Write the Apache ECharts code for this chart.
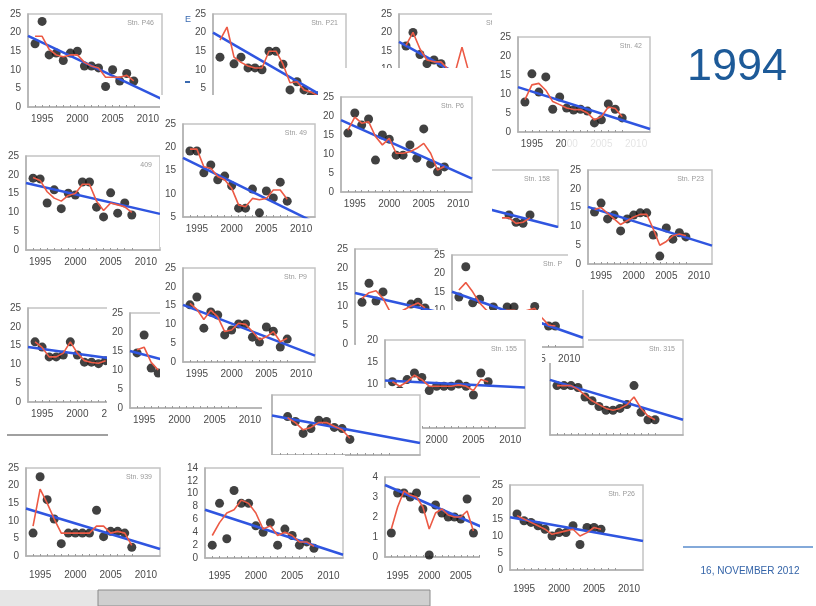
<!DOCTYPE html>
<html><head><meta charset="utf-8">
<script src="https://cdn.jsdelivr.net/npm/echarts@6/dist/echarts.min.js"></script>
<style>html,body{margin:0;padding:0;background:#fff}#c{width:816px;height:606px}</style>
</head><body><div id="c"></div>
<script>
const years = [1994,1995,1996,1997,1998,1999,2000,2001,2002,2003,2004,2005,2006,2007,2008];
const trendYears = [1993, 2012];
const xTickLabels = [1995, 2000, 2005, 2010];

const p46Dots = [17, 23, 14, 14.5, 12.5, 14.5, 15, 11, 11, 10.5, 5.5, 10, 7, 9, 7];
const p46Avg  = [19, 19, 15.5, 14, 13.5, 14, 14, 12, 11, 10.5, 8, 8, 8, 8.5, 7];
const p46Trend = [19.1, 2.1];

const p21Dots = [13.4, 38, 11.6, 13.4, 10.5, 10.5, 10, 15, 15, 11.5, 4.6, 6.8, 4.6, 3, 3];
const p21Avg  = [18, 21.5, 13.4, 12, 11, 10.5, 10.5, 15, 15, 11.5, 6.5, 6.8, 4.6, 4, 3];
const p21Trend = [20, -0.7];

const s56Dots = [16.3, 20, 14, 11.5, 12.5, 11.5, 9, 9, 9, 8, 7, 7, 5, 6, 6];
const s56Avg  = [16.5, 20, 15.5, 12.5, 12, 12, 10, 9, 16, 9, 8, 7, 6, 6, 6];
const s56Trend = [17.4, -2.4];

const s42Dots = [7.9, 15.3, 10.5, 14.5, 6, 9.2, 6.3, 5.8, 6, 5.5, 2.4, 3.2, 7.4, 6, 3.7];
const s42Avg  = [8.5, 12.4, 12.8, 11, 8, 7.2, 6.3, 5.9, 5.9, 5, 3.2, 4, 6.6, 6.2, 4];
const s42Trend = [11.8, 0.8];

const s409Dots = [19.1, 18.9, 12.5, 16, 11, 15.1, 14.6, 18.1, 18.1, 11.4, 8.8, 15.2, 9.8, 12.5, 9.3];
const s409Avg  = [19.3, 18.5, 15.5, 13.8, 13, 14.5, 15, 17.5, 17.5, 13, 10.5, 12.5, 12, 11.5, 10];
const s409Trend = [17.8, 9.6];

const s49Dots = [19.2, 19.2, 14.5, 16.2, 13, 13.8, 11.7, 6.9, 6.9, 11, 5.9, 10.6, 9.1, 12.5, 8.4];
const s49Avg  = [19.6, 19.6, 15.8, 15.5, 13.7, 13, 11.2, 7.6, 7.2, 9, 8.7, 9, 10.8, 10.8, 8.8];
const s49Trend = [17.7, 3.8];

const p6Dots = [15.5, 20.8, 17.6, 19.2, 8.4, 15, 13.9, 9.7, 9.7, 12.4, 8.9, 16.6, 7.4, 5.3, 6.6];
const p6Avg  = [16.3, 19.7, 18.1, 18.5, 14.6, 12.4, 14.1, 10.2, 10.2, 10.6, 11.5, 12.8, 10.2, 5.8, 6.7];
const p6Trend = [18.9, 3.5];

const s158Dots = [null, null, null, null, null, null, null, null, null, null, null, 12.8, 10.8, 10.5, 12.8];
const s158Avg  = [null, null, null, null, null, null, null, null, null, null, 12, 12, 10.5, 10.8, 12];
const s158Trend = [18.8, 9.5];

const p23Dots = [13.8, 16.2, 12, 13, 8.8, 12, 13, 13.6, 13.6, 7.7, 2.1, 9.6, 6.6, 8.3, 7.2];
const p23Avg  = [14.5, 15, 13.5, 12, 10.5, 11.5, 12.5, 13.2, 13.2, 9.3, 5, 6, 7.5, 8, 7.5];
const p23Trend = [15.2, 4.9];

const r3aDots = [16, 14.6, 12, 12, 12.5, 16, 12.5, 10.6, 10.6, 10.2, 11, null, null, null, null];
const r3aAvg  = [16, 14.5, 12, 12, 13, 16, 13, 11, 10.5, 10.3, 11, null, null, null, null];
const r3aTrend = [14.6, 9.7];

const r3bDots = [14.5, 19.2, 10.5, 9.2, null, null, null, null, null, null, null, null, null, null, null];
const r3bAvg  = [15.3, 16, 12, 10, null, null, null, null, null, null, null, null, null, null, null];
const r3bTrend = [15, 5.7];

const p9Dots = [15.2, 17.3, 9, 13.3, 12.5, 7.2, 8.5, 10.1, 10.1, 6.6, 5.3, 9.3, 8.2, 4, 6.1];
const p9Avg  = [15.6, 14, 11.3, 13.8, 12, 8.1, 8.5, 10.3, 10, 8.1, 5.9, 6.7, 8.1, 5.4, 6.3];
const p9Trend = [15.2, 1.7];

const sADots = [11, 16, 11.3, 13.7, null, null, null, 10.5, 11, 9.5, null, null, null, null, null];
const sAAvg  = [12, 13.5, 14, 12, 8.5, 8, 9, 10, 10.8, 9.5, null, null, null, null, null];
const sATrend = [13.4, 5.4];

const sPDots = [13.6, 21.8, 12, 13, null, 10.9, null, 10.9, 10.9, null, null, 11, null, 5.7, 5.7];
const sPAvg  = [15.5, 17.5, 15, 12, 10, 9, 9.5, 10, 10, 9.5, 10, 10.5, 8, 6, 5.7];
const sPTrend = [15, 2.5];

const s155Dots = [10.5, 8.5, 11, 12.5, 11.5, 8.5, 9.5, 9.5, 9.5, 10, 9.5, 7.5, 12.5, 10.5, null];
const s155Avg  = [10.5, 9.5, 10.5, 12, 11, 9.5, 9.5, 9.5, 9.5, 9.8, 9.5, 8.5, 11, 10.5, null];
const s155Trend = [10.8, 9.2];

const s315Dots = [13, 13, 13, 12.5, 10, 9, 7.5, 6.5, 6.5, 7, 8, 13, 6, 4, 4];
const s315Avg  = [13, 13, 13, 12, 10.5, 9, 8, 7, 6.5, 7, 8, 10, 7, 5, 4];
const s315Trend = [14.5, 4];

const sCDots = [null, 16, 14, 9, 11, 14.5, 14, 11.5, 11, 6.5, null, null, null, null, null];
const sCAvg  = [null, 15.5, 13.5, 10.5, 11.5, 13.5, 13.5, 12, 10.5, 7, null, null, null, null, null];
const sCTrend = [16.5, 5];

const s939Dots = [6.5, 22.5, 16, 10.5, 3.5, 6.5, 6.5, 6.5, 6.5, 13, 5.5, 7, 7, 6.5, 2.5];
const s939Avg  = [8.5, 19, 15, 10.5, 6.5, 6.5, 6.5, 6.5, 6.5, 8.5, 8.5, 6.5, 7, 6.5, 3];
const s939Trend = [13.5, 2];

const sDDots = [2, 8.5, 3, 10.5, 8.5, 8.5, 5, 4, 5.5, 2, 4.5, 3.5, 2, 2.5, 1.5];
const sDAvg  = [3.5, 5.5, 7, 7.5, 9, 8.5, 7, 4.5, 5, 3.5, 4, 3.5, 2.5, 2.5, 1.8];
const sDTrend = [7.5, 0.5];

const sEDots = [1.2, 3.2, 3.2, 3, 3.2, 2.4, 0.1, 2.6, 2.2, 2, 2, 1.9, 2.9, 1.2, null];
const sEAvg  = [1.4, 2.5, 3.3, 3.1, 3, 2.5, 1.4, 2.2, 2.4, 2.1, 2, 2, 2.3, 1.3, null];
const sETrend = [3.6, 1];

const p26Dots = [16.5, 14.5, 14, 13, 12, 10, 11, 11, 13, 7.5, 12.5, 12.5, 12, null, null];
const p26Avg  = [16, 15, 14, 13, 12, 10.5, 11, 11.5, 12, 10, 11, 12.5, 12, null, null];
const p26Trend = [15.5, 8.5];

// layout (bottom to top)
const panels = [
  {stn:'Stn. P46', dots:p46Dots, avg:p46Avg, trend:p46Trend, grid:[28,14,134,93], bg:[0,0,172,130], y:[0,25,5]},
  {stn:'Stn. P21', dots:p21Dots, avg:p21Avg, trend:p21Trend, grid:[213,14,133,93], bg:[182,0,168,130], y:[0,25,5]},
  {stn:'Stn. 5', dots:s56Dots, avg:s56Avg, trend:s56Trend, grid:[399,14,133,92], bg:[352,0,140,130], y:[0,25,5], stnX:486},
  {stn:'Stn. 42', dots:s42Dots, avg:s42Avg, trend:s42Trend, grid:[518,37,132,95], bg:[492,8,172,142], y:[0,25,5]},
  {stn:'409', dots:s409Dots, avg:s409Avg, trend:s409Trend, grid:[26,156,134,94], bg:[0,132,158,150], y:[0,25,5]},
  {stn:'Stn. 158', dots:s158Dots, avg:s158Avg, trend:s158Trend, grid:[425,170,133,92], bg:[420,160,140,120], y:[0,25,5], noX:true, noY:true},
  {stn:'Stn. 49', dots:s49Dots, avg:s49Avg, trend:s49Trend, grid:[183,124,132,93], bg:[160,95,158,152], y:[5,25,5]},
  {stn:'Stn. P6', dots:p6Dots, avg:p6Avg, trend:p6Trend, grid:[341,97,131,95], bg:[318,68,174,166], y:[0,25,5]},
  {stn:'', dots:r3aDots, avg:r3aAvg, trend:r3aTrend, grid:[28,308,134,94], bg:[0,290,110,140], y:[0,25,5]},
  {stn:'', dots:r3bDots, avg:r3bAvg, trend:r3bTrend, grid:[130,313,134,95], bg:[107,298,120,135], y:[0,25,5]},
  {stn:'Stn. P9', dots:p9Dots, avg:p9Avg, trend:p9Trend, grid:[183,268,132,94], bg:[160,258,160,132], y:[0,25,5]},
  {stn:'', dots:sADots, avg:sAAvg, trend:sATrend, grid:[355,249,133,95], bg:[330,232,120,130], y:[0,25,5]},
  {stn:'Stn. 315', dots:s315Dots, avg:s315Avg, trend:s315Trend, grid:[550,340,133,95], bg:[545,312,150,140], y:[0,25,5], noY:true, noX:true},
  {stn:'Stn. P', dots:sPDots, avg:sPAvg, trend:sPTrend, grid:[452,255,131,92], bg:[438,228,150,135], y:[0,25,5], stnX:543},
  {stn:'Stn. P23', dots:p23Dots, avg:p23Avg, trend:p23Trend, grid:[588,170,124,94], bg:[568,160,150,130], y:[0,25,5]},
  {stn:'Stn. 155', dots:s155Dots, avg:s155Avg, trend:s155Trend, grid:[385,340,140,88], bg:[356,310,186,150], y:[0,20,5]},
  {stn:'', dots:sCDots, avg:sCAvg, trend:sCTrend, grid:[272,395,148,60], bg:[262,388,160,92], y:[0,25,5], noY:true},
  {stn:'Stn. 939', dots:s939Dots, avg:s939Avg, trend:s939Trend, grid:[26,468,134,88], bg:[0,455,168,130], y:[0,25,5], xMargin:14},
  {stn:'', dots:sDDots, avg:sDAvg, trend:sDTrend, grid:[205,468,138,90], bg:[175,455,170,130], y:[0,14,2], xMargin:13},
  {stn:'St', dots:sEDots, avg:sEAvg, trend:sETrend, grid:[385,477,120,80], bg:[350,460,150,130], y:[0,4,1], xMargin:14},
  {stn:'Stn. P26', dots:p26Dots, avg:p26Avg, trend:p26Trend, grid:[510,485,133,85], bg:[480,470,165,125], y:[0,25,5], xMargin:14}
];

const grids = [], xAxes = [], yAxes = [], series = [], graphics = [];
const font = 'Liberation Sans, Arial, sans-serif';
const plain = v => String(v);
panels.forEach((p, i) => {
  const base = 10 + i * 10;
  graphics.push({type:'rect', z: base, shape:{x:p.bg[0], y:p.bg[1], width:p.bg[2], height:p.bg[3]}, style:{fill:'#ffffff'}});
  grids.push({left:p.grid[0], top:p.grid[1], width:p.grid[2], height:p.grid[3], show:true, borderColor:'#c4c4c4', borderWidth:1.5, backgroundColor:'transparent', z: base+1});
  xAxes.push({type:'value', gridIndex:i, min:trendYears[0], max:trendYears[1], z: base+2,
    axisLine:{show:true, lineStyle:{color:'#b0b0b0', width:1.5}},
    axisTick:{show:true, inside:true, length:2, lineStyle:{color:'#999'}, customValues:years},
    axisLabel:{show:!p.noX, customValues:xTickLabels, formatter:plain, color:'#4a4a4a', fontSize:10, margin:p.xMargin || 7, fontFamily:font},
    splitLine:{show:false}});
  yAxes.push({type:'value', gridIndex:i, min:p.y[0], max:p.y[1], interval:p.y[2], z: base+2,
    axisLine:{show:true, lineStyle:{color:'#b0b0b0', width:1.5}},
    axisTick:{show:false},
    axisLabel:{show:!p.noY, formatter:plain, color:'#4a4a4a', fontSize:10, margin:7, fontFamily:font},
    splitLine:{show:false}});
  series.push({type:'scatter', xAxisIndex:i, yAxisIndex:i, z: base+3, symbolSize:9,
    itemStyle:{color:'#111'}, data: years.map((yr, k) => [yr, p.dots[k]]).filter(d => d[1] != null), silent:true});
  series.push({type:'line', xAxisIndex:i, yAxisIndex:i, z: base+4, symbol:'none',
    lineStyle:{color:'#2f55e0', width:2.5}, data: trendYears.map((yr, k) => [yr, p.trend[k]]), silent:true});
  series.push({type:'line', xAxisIndex:i, yAxisIndex:i, z: base+5, symbol:'none',
    lineStyle:{color:'#ec5a45', width:1.6}, data: years.map((yr, k) => [yr, p.avg[k]]).filter(d => d[1] != null), silent:true});
  if (p.stn) {
    const sx = p.stnX != null ? p.stnX : p.grid[0] + p.grid[2] - 8;
    graphics.push({type:'text', z: base+6, x: sx, y: p.grid[1] + 9,
      style:{text:p.stn, fill:'#9a9a9a', fontSize:7, fontFamily:font, textAlign: p.stnX != null ? 'left' : 'right', textVerticalAlign:'middle'}});
  }
});

// faded label strip under Stn. 42
graphics.push({type:'rect', z:48, shape:{x:566, y:137, width:94, height:14}, style:{fill:'#ffffff', opacity:0.85}});

// slide decorations
graphics.push({type:'text', z:500, x:737, y:68, style:{text:'1994', fill:'#1d5a98', fontSize:45, fontFamily:font, textAlign:'center', textVerticalAlign:'middle'}});
graphics.push({type:'line', z:500, shape:{x1:683, y1:547, x2:813, y2:547}, style:{stroke:'#5a8ccc', lineWidth:1.5}});
graphics.push({type:'text', z:500, x:750, y:571, style:{text:'16, NOVEMBER 2012', fill:'#3464a8', fontSize:10, fontFamily:font, textAlign:'center', textVerticalAlign:'middle'}});
graphics.push({type:'rect', z:500, shape:{x:0, y:590, width:98, height:16}, style:{fill:'#e6e6e6'}});
graphics.push({type:'rect', z:500, shape:{x:98, y:590, width:332, height:16}, style:{fill:'#cfcfcf', stroke:'#8a8a8a', lineWidth:1}});
graphics.push({type:'line', z:105, shape:{x1:7, y1:435, x2:108, y2:435}, style:{stroke:'#a0a0a0', lineWidth:2}});
graphics.push({type:'text', z:500, x:188, y:20, style:{text:'E', fill:'#3a6ab0', fontSize:9, fontFamily:font, textAlign:'center', textVerticalAlign:'middle'}});
graphics.push({type:'rect', z:500, shape:{x:185, y:81, width:5, height:2}, style:{fill:'#3a6ab0'}});

const chart = echarts.init(document.getElementById('c'), null, {renderer:'canvas'});
chart.setOption({animation:false, backgroundColor:'#ffffff', grid:grids, xAxis:xAxes, yAxis:yAxes, series:series, graphic:{elements:graphics}});
</script></body></html>
